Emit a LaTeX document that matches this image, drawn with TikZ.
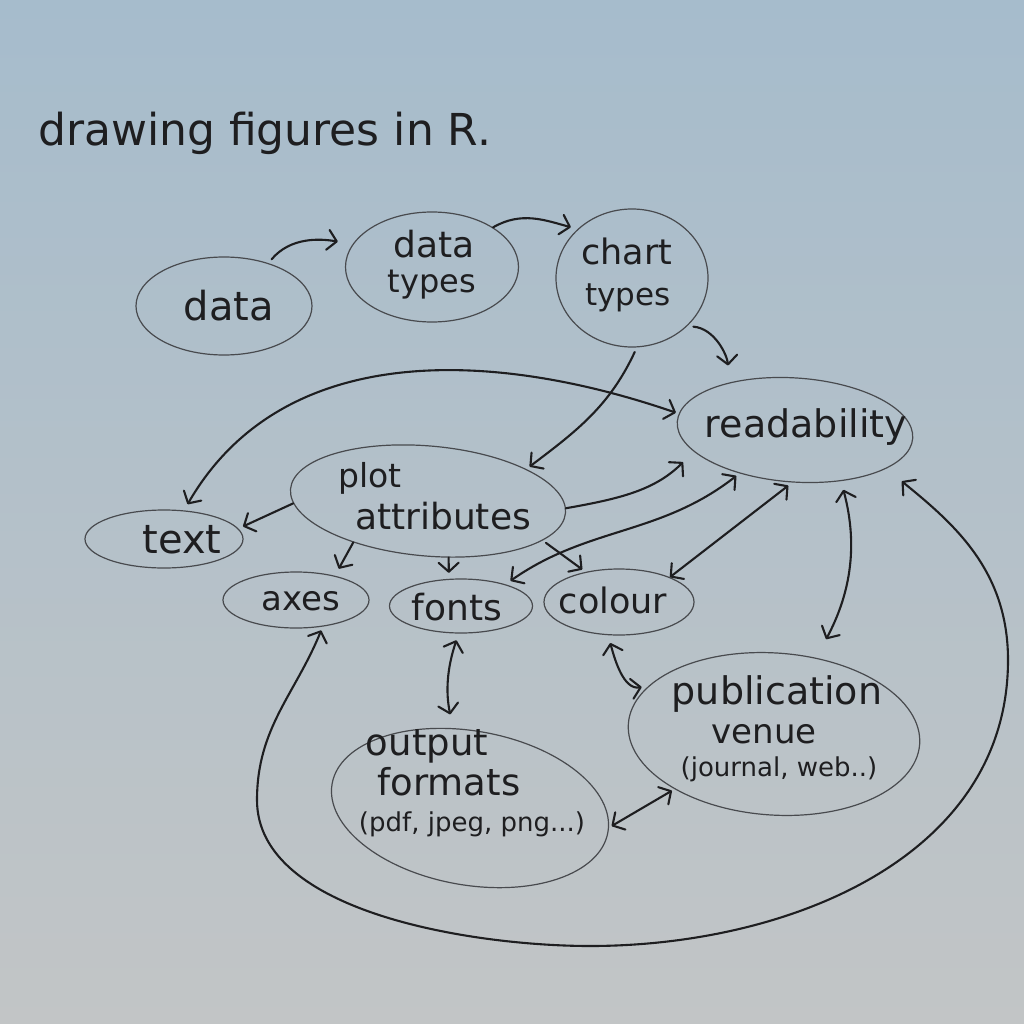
\documentclass[tikz,border=0pt]{standalone}
\usepackage{fontspec}
\setmainfont{DejaVu Sans}
\usetikzlibrary{shapes.geometric,arrows.meta}
\definecolor{bgtop}{RGB}{166,188,204}
\definecolor{bgbot}{RGB}{194,197,198}
\definecolor{ink}{RGB}{30,30,32}
\definecolor{pencil}{RGB}{72,74,78}
\tikzset{
  oval/.style={ellipse, draw=pencil, line width=1.2pt, inner sep=0pt},
  hw/.style={text=ink, inner sep=0pt, anchor=base, font=\fontsize{#1}{#1}\selectfont},
  arr/.style={draw=ink, line width=2.1pt, line cap=round},
  >={Straight Barb[length=9pt,width=20pt,round]}
}
\begin{document}
\begin{tikzpicture}[x=1pt,y=-1pt]
\useasboundingbox (0,0) rectangle (1024,1024);
\shade[top color=bgtop, bottom color=bgbot] (0,0) rectangle (1024,1024);

% title
\node[hw=44, anchor=base west] (title) at (38,146) {drawing figures in R.};

% ellipses
\node[oval, minimum width=176pt, minimum height=98pt] (data) at (224,306) {};
\node[oval, minimum width=173pt, minimum height=110pt] (dtypes) at (432,267) {};
\node[oval, minimum width=152pt, minimum height=138pt] (ctypes) at (632,278) {};
\node[oval, minimum width=236pt, minimum height=104pt, rotate=-4] (read) at (795,430) {};
\node[oval, minimum width=276pt, minimum height=110pt, rotate=-5] (plot) at (428,501) {};
\node[oval, minimum width=158pt, minimum height=58pt] (text) at (164,539) {};
\node[oval, minimum width=146pt, minimum height=56pt] (axes) at (296,600) {};
\node[oval, minimum width=143pt, minimum height=54pt] (fonts) at (461,606) {};
\node[oval, minimum width=150pt, minimum height=66pt] (colour) at (619,602) {};
\node[oval, minimum width=280pt, minimum height=154pt, rotate=-10] (out) at (470,808) {};
\node[oval, minimum width=292pt, minimum height=162pt, rotate=-4] (pub) at (774,734) {};

% labels
\node[hw=40] (dataT) at (229,320) {data};
\node[hw=36] (dtypesA) at (434,258) {data};
\node[hw=32] (dtypesB) at (432,292) {types};
\node[hw=35] (ctypesA) at (627,264) {chart};
\node[hw=31] (ctypesB) at (628,305) {types};
\node[hw=38] (readT) at (806,437) {readability};
\node[hw=33] (plotA) at (370,487) {plot};
\node[hw=36] (plotB) at (443,529) {attributes};
\node[hw=40] (textT) at (182,553) {text};
\node[hw=34] (axesT) at (301,610) {axes};
\node[hw=36] (fontsT) at (457,620) {fonts};
\node[hw=35] (colourT) at (613,613) {colour};
\node[hw=37] (outA) at (427,755) {output};
\node[hw=37] (outB) at (449,795) {formats};
\node[hw=26] (outC) at (472,831) {(pdf, jpeg, png...)};
\node[hw=38] (pubA) at (777,704) {publication};
\node[hw=34] (pubB) at (764,743) {venue};
\node[hw=26] (pubC) at (779,776) {(journal, web..)};

% loop way points
\coordinate (loopL) at (257,800);
\coordinate (loopB) at (590,946);
\coordinate (loopR) at (1008,660);

% connectors
\draw[arr,->,shorten <=5pt,shorten >=15pt] (data.44) to[out=50,in=170] (dtypes.164);
\draw[arr,->,shorten >=7pt] (dtypes.33) to[out=30,in=165] (ctypes.138);
\draw[arr,->,shorten <=6pt,shorten >=17pt] (ctypes.-41) to[out=-5,in=95] (read.148);
\draw[arr,->,shorten <=5pt,shorten >=4pt] (ctypes.-86) to[out=-115,in=37] (plot.23);
\draw[arr,<->,shorten <=7pt,shorten >=3pt] (text.55) to[out=60,in=161] (read.176);
\draw[arr,->,shorten >=5pt] (plot.186) -- (text.8);
\draw[arr,->,shorten >=15pt] (plot.2) to[out=10,in=225] (read.196);
\draw[arr,->,shorten >=8pt] (plot.214) -- (axes.32);
\draw[arr,->,shorten >=6pt] (plot.-65) -- (fonts.114);
\draw[arr,->,shorten <=4pt,shorten >=4pt] (plot.-14) -- (colour.138);
\draw[arr,<->,shorten <=6pt,shorten >=4pt] (fonts.26) to[out=35,in=218] (read.222);
\draw[arr,<->,shorten >=5pt] (colour.26) -- (read.271);
\draw[arr,<->,shorten <=9pt,shorten >=21pt] (read.-44) to[out=-75,in=62] (pub.65);
\draw[arr,<->,shorten <=7pt,shorten >=14pt] (fonts.-95) to[bend right=15] (out.112);
\draw[arr,<->,shorten <=8pt,shorten >=7pt] (colour.252) to[out=-75,in=190] (pub.163);
\draw[arr,<->,shorten <=3pt,shorten >=3pt] (out.2) -- (pub.213);
\draw[arr,<->,shorten <=4pt,shorten >=20pt] (axes.-45) to[out=-112,in=90] (loopL)
  to[out=-90,in=180,looseness=0.8] (loopB) to[out=0,in=-90] (loopR)
  to[out=90,in=-39] (read.-19);
\end{tikzpicture}
\end{document}
